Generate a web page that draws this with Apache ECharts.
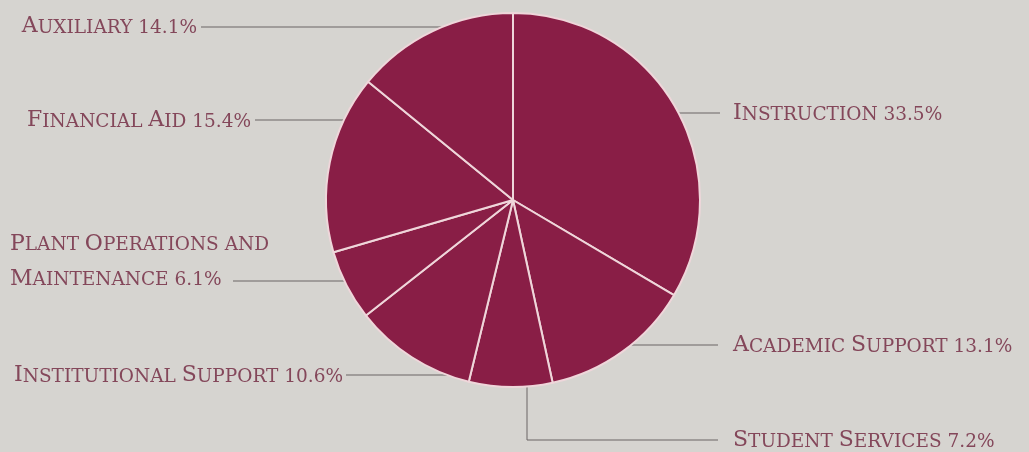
<!DOCTYPE html>
<html>
<head>
<meta charset="utf-8">
<script src="https://cdn.jsdelivr.net/npm/echarts@6/dist/echarts.min.js"></script>
<style>
html,body{margin:0;padding:0;background:#d6d4d0;}
#c{width:1029px;height:452px;}
</style>
</head>
<body>
<div id="c"></div>
<script>
// Data
var categories = ['Instruction', 'Academic Support', 'Student Services', 'Institutional Support', 'Plant Operations and\nMaintenance', 'Financial Aid', 'Auxiliary'];
var shares = [33.5, 13.1, 7.2, 10.6, 6.1, 15.4, 14.1];

// Layout (label anchors and leader-line routing), separate from data
var CX = 513, CY = 200, R = 187;
var TEXT_DY = -6;
function edgeX(y, side) { var dy = y - CY; var dx = Math.sqrt(Math.max(0, R * R - dy * dy)); return side > 0 ? CX + dx : CX - dx; }
var labelSpots = [
  { x: 733, y: 113, align: 'left', line: function () { return [[edgeX(113, 1), 113], [720, 113]]; } },
  { x: 733, y: 345, align: 'left', line: function () { return [[edgeX(345, 1), 345], [718, 345]]; } },
  { x: 733, y: 440, align: 'left', line: function () { return [[527, 387], [527, 440], [718, 440]]; } },
  { x: 343, y: 375, align: 'right', line: function () { return [[346, 375], [edgeX(375, -1), 375]]; } },
  { x: 10, y: 261, align: 'left', line: function () { return [[233, 281], [edgeX(281, -1), 281]]; } },
  { x: 251, y: 120, align: 'right', line: function () { return [[255, 120], [edgeX(120, -1), 120]]; } },
  { x: 197, y: 26, align: 'right', line: function () { return [[201, 27], [edgeX(27, -1), 27]]; } }
];

// Small-caps rendering through rich text
function smallCaps(text) {
  return text.split('\n').map(function (line) {
    return line.split(' ').map(function (w) {
      if (!w) return '';
      var first = w.charAt(0);
      if (first >= 'A' && first <= 'Z') {
        return '{c|' + first + '}' + (w.length > 1 ? '{s|' + w.slice(1).toUpperCase() + '}' : '');
      }
      return '{s|' + w.toUpperCase() + '}';
    }).join('{s| }');
  }).join('\n');
}

var chart = echarts.init(document.getElementById('c'), null, { renderer: 'canvas' });
var data = categories.map(function (n, i) { return { name: n, value: shares[i] }; });
var TXT = '#84475a';
var FAM = 'DejaVu Serif, Liberation Serif, serif';
chart.setOption({
  backgroundColor: '#d6d4d0',
  animation: false,
  series: [{
    type: 'pie',
    center: [CX, CY],
    radius: [0, R],
    startAngle: 90,
    clockwise: true,
    data: data,
    itemStyle: { color: '#891e46', borderColor: '#efd6da', borderWidth: 2 },
    label: {
      show: true,
      position: 'outside',
      formatter: function (p) { return smallCaps(p.name + ' ' + p.value.toFixed(1) + '%'); },
      color: TXT,
      fontFamily: FAM,
      fontSize: 18.5,
      lineHeight: 35,
      rich: {
        c: { color: TXT, fontFamily: FAM, fontSize: 22, lineHeight: 35, verticalAlign: 'bottom' },
        s: { color: TXT, fontFamily: FAM, fontSize: 18.5, lineHeight: 35, verticalAlign: 'bottom' }
      }
    },
    labelLine: { show: true, lineStyle: { color: '#6a6464', width: 1 } },
    labelLayout: function (params) {
      var s = labelSpots[params.dataIndex];
      return { x: s.x, y: s.y + TEXT_DY, align: s.align, verticalAlign: 'middle', labelLinePoints: s.line() };
    },
    emphasis: { disabled: true }
  }]
});
</script>
</body>
</html>
